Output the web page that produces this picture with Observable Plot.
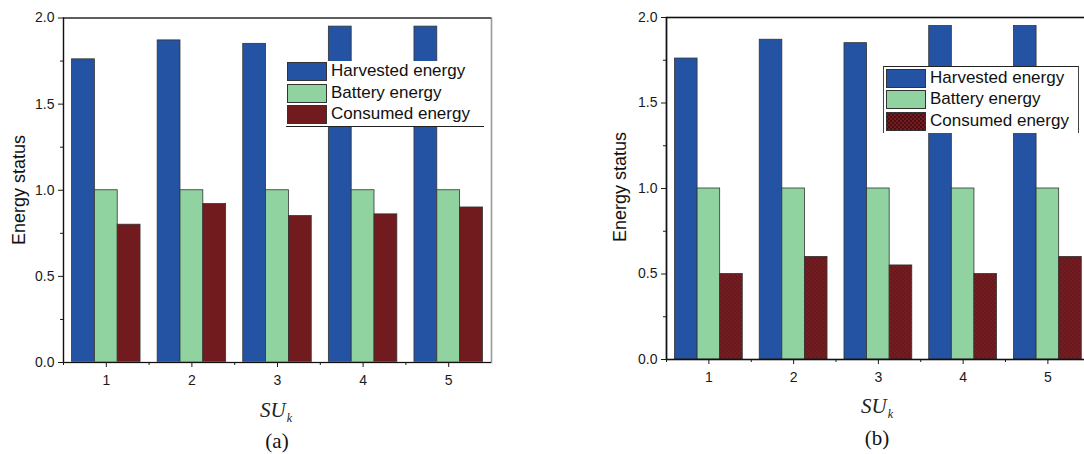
<!DOCTYPE html>
<html><head><meta charset="utf-8">
<script src="https://cdn.jsdelivr.net/npm/d3@7"></script>
<script src="https://cdn.jsdelivr.net/npm/@observablehq/plot@0.6"></script>
<style>
body{margin:0;background:#fff;}
#wrap{position:relative;width:1084px;height:454px;overflow:hidden;font-family:"Liberation Sans",Arial,sans-serif;}
.panel{position:absolute;top:0;width:500px;height:454px;}
.ytitle{position:absolute;font-size:18px;line-height:18px;color:#111;transform:translate(-50%,-50%) rotate(-90deg);white-space:nowrap;}
.xtitle{position:absolute;font-family:"Liberation Serif","Times New Roman",serif;font-style:italic;font-size:21px;line-height:21px;transform:translateX(-50%);color:#222;white-space:nowrap;}
.xtitle sub{font-size:12px;vertical-align:-5px;margin-left:1px;}
.cap{position:absolute;font-family:"Liberation Serif","Times New Roman",serif;font-size:21px;line-height:21px;transform:translateX(-50%);color:#111;}
.legend{position:absolute;background:#fff;box-sizing:border-box;}
.sw{position:absolute;width:40px;height:19px;box-sizing:border-box;border:1px solid #333;}
.lt{position:absolute;font-size:17px;line-height:20px;color:#111;white-space:nowrap;}
</style>
</head><body>
<div id="wrap"></div>
<script>
// ---- data ----
const categories = [1, 2, 3, 4, 5];
const seriesNames = ["Harvested energy", "Battery energy", "Consumed energy"];
const harvestedA = [1.76, 1.87, 1.85, 1.95, 1.95];
const batteryA   = [1.00, 1.00, 1.00, 1.00, 1.00];
const consumedA  = [0.80, 0.92, 0.85, 0.86, 0.90];
const harvestedB = [1.76, 1.87, 1.85, 1.95, 1.95];
const batteryB   = [1.00, 1.00, 1.00, 1.00, 1.00];
const consumedB  = [0.50, 0.60, 0.55, 0.50, 0.60];
const yTicks = [0, 0.5, 1.0, 1.5, 2.0];
const yMinorTicks = [0.25, 0.75, 1.25, 1.75];
const xMinorTicks = [0.5, 1.5, 2.5, 3.5, 4.5];
const xDomain = [0.5, 5.5];
const yDomain = [0, 2];
const yTitle = "Energy status";
const captions = ["(a)", "(b)"];

const blue = "#2453a3", green = "#90d2a0", red = "#721b1f";

function buildRows(h, b, c) {
  const arrs = [h, b, c];
  const rows = [];
  categories.forEach((su, i) => arrs.forEach((arr, j) => rows.push({su, series: seriesNames[j], value: arr[i]})));
  return rows;
}

function makePanel(rows, o) {
  const groupW = 0.8, barW = groupW / seriesNames.length;
  const left = d => d.su - groupW / 2 + seriesNames.indexOf(d.series) * barW;
  return Plot.plot({
    width: 500, height: 454,
    marginLeft: o.ml, marginRight: o.mr, marginTop: o.mt, marginBottom: o.mb,
    x: {domain: xDomain},
    y: {domain: yDomain},
    color: {domain: seriesNames, range: o.colors},
    style: {fontFamily: '"Liberation Sans", Arial, sans-serif', fontSize: "14px", color: "#1a1a1a", background: "transparent", overflow: "visible"},
    marks: [
      Plot.rect(rows, {x1: left, x2: d => left(d) + barW, y1: () => 0, y2: "value", fill: "series", stroke: "#333", strokeWidth: 0.8}),
      Plot.frame({stroke: o.rightStroke, strokeWidth: 1.6}),
      Plot.ruleY([yDomain[1]], {stroke: "#111", strokeWidth: 1}),
      Plot.ruleY([yDomain[0]], {stroke: "#111", strokeWidth: 1.2}),
      Plot.ruleX([xDomain[0]], {stroke: "#111", strokeWidth: 1.2}),
      Plot.axisY(yTicks, {tickSize: 5, tickPadding: 4, tickFormat: d3.format(".1f"), fontSize: 14, label: null}),
      Plot.axisY(yMinorTicks, {tickSize: 3, tickFormat: () => "", label: null}),
      Plot.axisX(categories, {tickSize: 5, tickPadding: 8, fontSize: 14, label: null}),
      Plot.axisX(xMinorTicks, {tickSize: 3, tickFormat: () => "", label: null})
    ]
  });
}

const wrap = document.getElementById("wrap");

function addPanel(left, svg) {
  const d = document.createElement("div");
  d.className = "panel";
  d.style.left = left + "px";
  d.appendChild(svg);
  wrap.appendChild(d);
}

// Panel (a)
const svgA = makePanel(buildRows(harvestedA, batteryA, consumedA),
  {ml: 63, mr: 9, mt: 17.5, mb: 92, colors: [blue, green, red], rightStroke: "#999"});
addPanel(0, svgA);

// Panel (b)
const svgB = makePanel(buildRows(harvestedB, batteryB, consumedB),
  {ml: 66, mr: 10.25, mt: 17, mb: 95, colors: [blue, green, "url(#dotsB)"], rightStroke: "#111"});
const NS = "http://www.w3.org/2000/svg";
const defs = document.createElementNS(NS, "defs");
const pat = document.createElementNS(NS, "pattern");
pat.setAttribute("id", "dotsB"); pat.setAttribute("width", "4"); pat.setAttribute("height", "4");
pat.setAttribute("patternUnits", "userSpaceOnUse");
const bg = document.createElementNS(NS, "rect");
bg.setAttribute("width", "4"); bg.setAttribute("height", "4"); bg.setAttribute("fill", "#731c21");
pat.appendChild(bg);
[[1, 1], [3, 3]].forEach(([cx, cy]) => {
  const c = document.createElementNS(NS, "circle");
  c.setAttribute("cx", cx); c.setAttribute("cy", cy); c.setAttribute("r", "0.6"); c.setAttribute("fill", "#4a0d11");
  pat.appendChild(c);
});
defs.appendChild(pat);
svgB.insertBefore(defs, svgB.firstChild);
addPanel(600, svgB);

// titles & captions
function addEl(cls, html, x, y) {
  const e = document.createElement("div");
  e.className = cls; e.innerHTML = html;
  e.style.left = x + "px"; e.style.top = y + "px";
  wrap.appendChild(e);
}
addEl("ytitle", yTitle, 19, 190);
addEl("ytitle", yTitle, 620, 187);
addEl("xtitle", "SU<sub>k</sub>", 276, 400);
addEl("xtitle", "SU<sub>k</sub>", 877, 396);
addEl("cap", captions[0], 277, 431);
addEl("cap", captions[1], 877, 428);

// legends
const dotBg = "radial-gradient(circle, #4a0d11 0.7px, transparent 1.1px) 0 0/4px 4px, radial-gradient(circle, #4a0d11 0.7px, transparent 1.1px) 2px 2px/4px 4px, #731c21";
function addLegend(o) {
  const L = document.createElement("div");
  L.className = "legend";
  Object.assign(L.style, {left: o.x + "px", top: o.y + "px", width: o.w + "px", height: o.h + "px"}, o.border);
  seriesNames.forEach((name, i) => {
    const s = document.createElement("div");
    s.className = "sw";
    s.style.left = o.sx + "px"; s.style.top = (o.sy + i * o.step) + "px";
    s.style.background = o.fills[i];
    L.appendChild(s);
    const t = document.createElement("div");
    t.className = "lt"; t.textContent = name;
    t.style.left = o.tx + "px"; t.style.top = (o.sy + i * o.step - 1) + "px";
    L.appendChild(t);
  });
  wrap.appendChild(L);
}
addLegend({x: 286, y: 61, w: 198, h: 66, sx: 1, sy: 1, step: 21.7, tx: 45,
  fills: [blue, green, red], border: {borderBottom: "1px solid #222"}});
addLegend({x: 883, y: 66, w: 196, h: 67, sx: 2, sy: 1.5, step: 21.7, tx: 46,
  fills: [blue, green, dotBg], border: {borderTop: "1px solid #222", borderLeft: "1px solid #444", borderRight: "1px solid #444"}});
</script>
</body></html>
